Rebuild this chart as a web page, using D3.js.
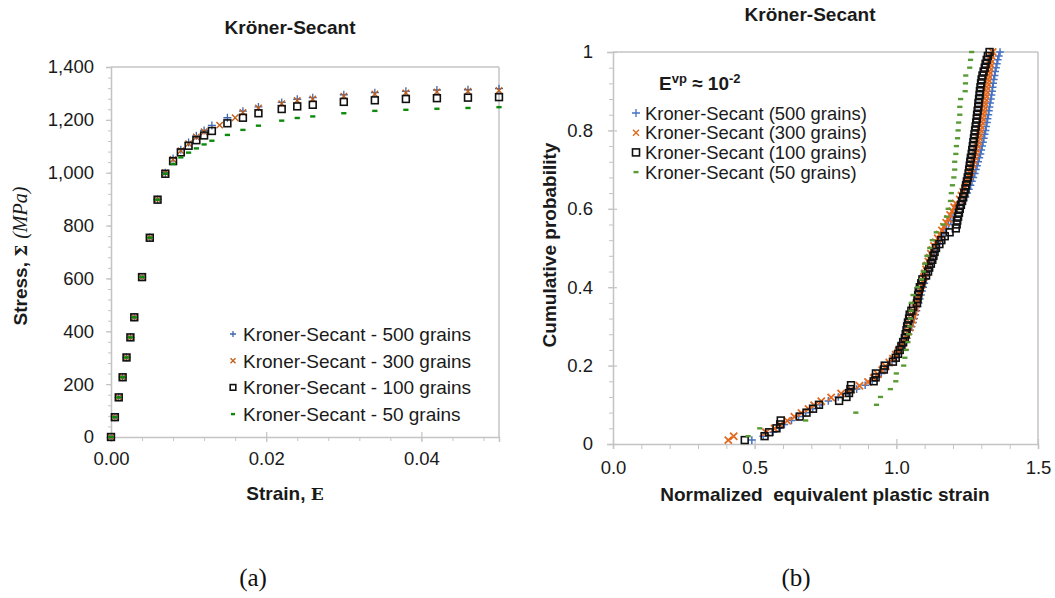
<!DOCTYPE html>
<html><head><meta charset="utf-8">
<script src="https://cdn.jsdelivr.net/npm/d3@7"></script>
<style>body{margin:0;background:#fff}svg{display:block}</style>
</head><body>
<svg id="c" width="1055" height="598"></svg>
<script>
// ---------- Data (a): stress-strain ----------
const strainL = [0,0.0005,0.001,0.0015,0.002,0.0025,0.003,0.004,0.005,0.006,0.007,0.008,0.009,0.010,0.011,0.012,0.013,0.015,0.017,0.019,0.022,0.024,0.026,0.030,0.034,0.038,0.042,0.046,0.050];
const strainL300 = [0,0.0005,0.001,0.0015,0.002,0.0025,0.003,0.004,0.005,0.006,0.007,0.008,0.009,0.010,0.011,0.012,0.014,0.016,0.017,0.019,0.022,0.024,0.026,0.030,0.034,0.038,0.042,0.046,0.050];
const stress500 = [0,75,150,226,301,377,453,605,755,899,1000,1054,1087,1114,1140,1160,1179,1208,1233,1249,1266,1278,1284,1295,1303,1308,1313,1314,1318];
const stress300 = [0,75,150,226,301,377,453,605,755,899,1000,1050,1083,1110,1135,1155,1180,1208,1228,1245,1261,1273,1279,1290,1298,1302,1306,1308,1311];
const stress100 = [0,75,150,226,301,377,453,605,754,898,996,1044,1077,1102,1123,1141,1158,1187,1208,1225,1241,1251,1257,1268,1274,1279,1282,1284,1286];
const stress50  = [0,75,150,226,301,377,453,605,754,898,996,1033,1058,1076,1092,1107,1121,1143,1162,1178,1197,1207,1213,1225,1234,1238,1242,1245,1248];
const legendL = ["Kroner-Secant - 500 grains","Kroner-Secant - 300 grains","Kroner-Secant - 100 grains","Kroner-Secant - 50 grains"];
const ticksLY = [0,200,400,600,800,1000,1200,1400];
const ticksLX = [0,0.02,0.04];

// ---------- Data (b): normalized equivalent plastic strain samples (sorted) ----------
const eps500 = [0.49,0.53,0.565,0.585,0.605,0.63,0.655,0.68,0.705,0.73,0.76,0.795,0.83,0.86,0.89,0.915,0.932,0.947,0.96,0.972,0.985,0.996,1.006,1.015,1.023,1.03,1.037,1.043,1.049,1.054,1.059,1.063,1.067,1.071,1.075,1.079,1.083,1.087,1.091,1.095,1.099,1.103,1.107,1.111,1.115,1.12,1.125,1.13,1.135,1.141,1.147,1.154,1.161,1.168,1.176,1.184,1.192,1.2,1.208,1.215,1.222,1.237,1.244,1.25,1.256,1.262,1.267,1.272,1.277,1.281,1.285,1.289,1.293,1.297,1.3,1.303,1.306,1.309,1.312,1.315,1.317,1.32,1.322,1.325,1.327,1.329,1.331,1.334,1.336,1.338,1.34,1.342,1.344,1.347,1.349,1.352,1.355,1.358,1.362,1.366];
const eps300 = [0.407,0.426,0.54,0.57,0.59,0.615,0.64,0.665,0.69,0.71,0.735,0.77,0.805,0.84,0.87,0.9,0.92,0.935,0.95,0.963,0.975,0.988,0.998,1.008,1.016,1.024,1.03,1.036,1.042,1.047,1.052,1.056,1.06,1.064,1.067,1.07,1.073,1.077,1.081,1.085,1.089,1.093,1.097,1.101,1.105,1.109,1.113,1.118,1.122,1.127,1.133,1.139,1.146,1.153,1.161,1.168,1.176,1.183,1.19,1.197,1.204,1.21,1.224,1.23,1.236,1.242,1.247,1.252,1.257,1.261,1.265,1.269,1.273,1.276,1.279,1.282,1.285,1.288,1.291,1.293,1.296,1.298,1.3,1.303,1.305,1.307,1.309,1.311,1.313,1.315,1.317,1.319,1.321,1.323,1.325,1.327,1.329,1.331,1.333,1.336,1.34];
const eps100 = [0.465,0.535,0.551,0.577,0.59,0.592,0.659,0.683,0.706,0.727,0.798,0.824,0.833,0.838,0.84,0.92,0.927,0.928,0.956,0.959,0.988,0.998,1.006,1.012,1.018,1.024,1.03,1.033,1.036,1.038,1.041,1.045,1.047,1.053,1.059,1.073,1.075,1.077,1.079,1.083,1.088,1.092,1.105,1.112,1.116,1.122,1.127,1.131,1.135,1.14,1.152,1.159,1.171,1.188,1.21,1.213,1.215,1.218,1.221,1.224,1.228,1.232,1.236,1.24,1.244,1.246,1.249,1.252,1.255,1.257,1.259,1.261,1.263,1.266,1.268,1.27,1.272,1.274,1.276,1.278,1.28,1.282,1.284,1.285,1.287,1.289,1.29,1.292,1.294,1.295,1.297,1.299,1.301,1.304,1.308,1.312,1.315,1.319,1.323,1.329];
const eps50 = [0.477,0.518,0.68,0.857,0.93,0.944,0.979,0.998,1.0,1.026,1.03,1.035,1.041,1.044,1.047,1.05,1.052,1.053,1.059,1.075,1.089,1.095,1.1,1.108,1.118,1.127,1.141,1.165,1.177,1.183,1.191,1.194,1.198,1.203,1.206,1.206,1.21,1.212,1.216,1.218,1.22,1.224,1.224,1.227,1.243,1.244,1.245,1.259,1.262,1.266];
const legendR = ["Kroner-Secant (500 grains)","Kroner-Secant (300 grains)","Kroner-Secant (100 grains)","Kroner-Secant (50 grains)"];
const ticksRY = [0,0.2,0.4,0.6,0.8,1];
const ticksRYLabels = ["0","0.2","0.4","0.6","0.8","1"];
const ticksRX = [0,0.5,1.0,1.5];

// ---------- setup ----------
const svg = d3.select("#c");
const FONT = "'Liberation Sans', Arial, sans-serif";
const AX = "#c4c4c4";
const TXT = "#1a1a1a";

function marker(g, type, color, x, y, s, w) {
  if (type === "plus") {
    g.append("path").attr("d", `M${x-s},${y}H${x+s}M${x},${y-s}V${y+s}`).attr("stroke", color).attr("stroke-width", w||1.3).attr("fill","none");
  } else if (type === "cross") {
    g.append("path").attr("d", `M${x-s},${y-s}L${x+s},${y+s}M${x-s},${y+s}L${x+s},${y-s}`).attr("stroke", color).attr("stroke-width", w||1.4).attr("fill","none");
  } else if (type === "square") {
    g.append("rect").attr("x", x-s).attr("y", y-s).attr("width", 2*s).attr("height", 2*s).attr("fill","none").attr("stroke", color).attr("stroke-width", w||1.6);
  } else if (type === "dash") {
    g.append("rect").attr("x", x-s).attr("y", y-1.2).attr("width", 2*s).attr("height", 2.4).attr("fill", color);
  }
}

// ================= Chart (a) =================
const xL = d3.scaleLinear().domain([0,0.05]).range([111,499]);
const yL = d3.scaleLinear().domain([0,1400]).range([437,67]);
const gA = svg.append("g");

gA.append("line").attr("x1",xL(0)).attr("x2",xL(0.05)).attr("y1",yL(1400)).attr("y2",yL(1400)).attr("stroke",AX).attr("stroke-width",1.5);
gA.append("line").attr("x1",xL(0.05)).attr("x2",xL(0.05)).attr("y1",yL(0)).attr("y2",yL(1400)).attr("stroke",AX).attr("stroke-width",1.5);

const minorLY = d3.range(0, 1401, 40);
gA.append("g").attr("transform",`translate(${xL(0)},0)`)
  .call(d3.axisLeft(yL).tickValues(minorLY).tickSize(3).tickFormat(""))
  .call(g=>{g.select(".domain").remove(); g.selectAll("line").attr("stroke",AX).attr("stroke-width",1);});
const minorLX = d3.range(0, 13).map(i=>i*0.004);
gA.append("g").attr("transform",`translate(0,${yL(0)})`)
  .call(d3.axisBottom(xL).tickValues(minorLX).tickSize(4).tickFormat(""))
  .call(g=>{g.select(".domain").remove(); g.selectAll("line").attr("stroke",AX).attr("stroke-width",1);});

const axLY = gA.append("g").attr("transform",`translate(${xL(0)},0)`)
  .call(d3.axisLeft(yL).tickValues(ticksLY).tickSize(5).tickPadding(12).tickFormat(d3.format(",")));
axLY.select(".domain").attr("stroke",AX).attr("stroke-width",1.5);
axLY.selectAll("line").attr("stroke",AX).attr("stroke-width",1.2);
axLY.selectAll("text").attr("font-family",FONT).attr("font-size",18.5).attr("fill",TXT);

const axLX = gA.append("g").attr("transform",`translate(0,${yL(0)})`)
  .call(d3.axisBottom(xL).tickValues(ticksLX).tickSize(5).tickPadding(10).tickFormat(d3.format(".2f")));
axLX.select(".domain").attr("stroke",AX).attr("stroke-width",1.5);
axLX.selectAll("line").attr("stroke",AX).attr("stroke-width",1.2).attr("y1",-5);
axLX.selectAll("text").attr("font-family",FONT).attr("font-size",18.5).attr("fill",TXT);

gA.append("text").attr("x",290).attr("y",34).attr("text-anchor","middle").attr("font-family",FONT).attr("font-weight","bold").attr("font-size",19).attr("fill",TXT).text("Kröner-Secant");

const yt = gA.append("text").attr("transform","translate(27,256) rotate(-90)").attr("text-anchor","middle").attr("font-size",19).attr("fill",TXT);
yt.append("tspan").attr("font-family",FONT).attr("font-weight","bold").text("Stress, ");
yt.append("tspan").attr("font-family","'DejaVu Serif', serif").attr("font-weight","bold").attr("font-size",17).text("Σ ");
yt.append("tspan").attr("font-family","'Liberation Serif', serif").attr("font-style","italic").attr("font-size",20).text("(MPa)");

const xt = gA.append("text").attr("x",285).attr("y",500).attr("text-anchor","middle").attr("font-size",19).attr("fill",TXT);
xt.append("tspan").attr("font-family",FONT).attr("font-weight","bold").text("Strain, ");
xt.append("tspan").attr("font-family","'DejaVu Serif', serif").attr("font-weight","bold").attr("font-size",17).text("E");

const colL = {b:"#3f67b0", o:"#c0601c", k:"#111", g:"#0c8a0c"};
const dA = gA.append("g");
strainL.forEach((s,i)=>marker(dA,"plus",colL.b,xL(s),yL(stress500[i]),4));
strainL300.forEach((s,i)=>marker(dA,"cross",colL.o,xL(s),yL(stress300[i]),3.2));
strainL.forEach((s,i)=>marker(dA,"square",colL.k,xL(s),yL(stress100[i]),3.4));
strainL.forEach((s,i)=>marker(dA,"dash",colL.g,xL(s),yL(stress50[i]),2.6));

const legA = gA.append("g");
const typesL = ["plus","cross","square","dash"];
const colsL = [colL.b,colL.o,colL.k,colL.g];
legendL.forEach((t,i)=>{
  const yy = 334 + i*26.7;
  marker(legA, typesL[i], colsL[i], 233, yy, i===0?3:(i===1?2.5:(i===2?2.8:2)));
  legA.append("text").attr("x",243).attr("y",yy).attr("dy","0.36em").attr("font-family",FONT).attr("font-size",19).attr("fill",TXT).text(t);
});

// ================= Chart (b) =================
const xR = d3.scaleLinear().domain([0,1.5]).range([613,1038]);
const yR = d3.scaleLinear().domain([0,1]).range([444,52]);
const gB = svg.append("g");

gB.append("line").attr("x1",xR(0)).attr("x2",xR(1.5)).attr("y1",yR(1)).attr("y2",yR(1)).attr("stroke",AX).attr("stroke-width",1.5);
gB.append("line").attr("x1",xR(1.5)).attr("x2",xR(1.5)).attr("y1",yR(0)).attr("y2",yR(1)).attr("stroke",AX).attr("stroke-width",1.5);

const minorRY = d3.range(0, 26).map(i=>i*0.04);
gB.append("g").attr("transform",`translate(${xR(0)},0)`)
  .call(d3.axisLeft(yR).tickValues(minorRY).tickSize(4).tickFormat(""))
  .call(g=>{g.select(".domain").remove(); g.selectAll("line").attr("stroke",AX).attr("stroke-width",1);});
const minorRX = d3.range(0, 16).map(i=>i*0.1);
gB.append("g").attr("transform",`translate(0,${yR(0)})`)
  .call(d3.axisBottom(xR).tickValues(minorRX).tickSize(5).tickFormat(""))
  .call(g=>{g.select(".domain").remove(); g.selectAll("line").attr("stroke",AX).attr("stroke-width",1);});

const axRY = gB.append("g").attr("transform",`translate(${xR(0)},0)`)
  .call(d3.axisLeft(yR).tickValues(ticksRY).tickSize(6).tickPadding(14).tickFormat((d,i)=>ticksRYLabels[i]));
axRY.select(".domain").attr("stroke",AX).attr("stroke-width",1.5);
axRY.selectAll("line").attr("stroke",AX).attr("stroke-width",1.2).attr("x2",-5).attr("x1",4);
axRY.selectAll("text").attr("font-family",FONT).attr("font-size",18.5).attr("fill",TXT);

const axRX = gB.append("g").attr("transform",`translate(0,${yR(0)})`)
  .call(d3.axisBottom(xR).tickValues(ticksRX).tickSize(5).tickPadding(12).tickFormat(d3.format(".1f")));
axRX.select(".domain").attr("stroke",AX).attr("stroke-width",1.5);
axRX.selectAll("line").attr("stroke",AX).attr("stroke-width",1.2).attr("y1",-5);
axRX.selectAll("text").attr("font-family",FONT).attr("font-size",18.5).attr("fill",TXT);

gB.append("text").attr("x",810).attr("y",21).attr("text-anchor","middle").attr("font-family",FONT).attr("font-weight","bold").attr("font-size",19).attr("fill",TXT).text("Kröner-Secant");
gB.append("text").attr("transform","translate(556,245) rotate(-90)").attr("text-anchor","middle").attr("font-family",FONT).attr("font-weight","bold").attr("font-size",19).attr("fill",TXT).text("Cumulative probability");
gB.append("text").attr("x",825).attr("y",501).attr("text-anchor","middle").attr("font-family",FONT).attr("font-weight","bold").attr("font-size",19).attr("fill",TXT).attr("xml:space","preserve").style("white-space","pre").text("Normalized  equivalent plastic strain");

const ann = gB.append("text").attr("x",659).attr("y",90).attr("font-family",FONT).attr("font-weight","bold").attr("font-size",19).attr("fill",TXT);
ann.append("tspan").text("E");
ann.append("tspan").attr("font-size",13).attr("dy",-7).text("vp");
ann.append("tspan").attr("dy",7).text(" ≈ 10");
ann.append("tspan").attr("font-size",13).attr("dy",-7).text("-2");

// data (empirical cumulative probability from sorted samples)
const colR = {b:"#4472c4", o:"#e2691f", k:"#111", g:"#5a9a36"};
const dB = gB.append("g");
eps500.forEach((v,i)=>marker(dB,"plus",colR.b,xR(v),yR((i+1)/eps500.length),3.8,1.5));
eps300.forEach((v,i)=>marker(dB,"cross",colR.o,xR(v),yR((i+1)/eps300.length),3.6,1.8));
eps100.forEach((v,i)=>marker(dB,"square",colR.k,xR(v),yR((i+1)/eps100.length),3.4));
eps50.forEach((v,i)=>marker(dB,"dash",colR.g,xR(v),yR((i+1)/eps50.length),2.6));

const legB = gB.append("g");
const colsR = [colR.b,colR.o,colR.k,colR.g];
legendR.forEach((t,i)=>{
  const yy = 113 + i*19.7;
  marker(legB, typesL[i], colsR[i], 636, yy, i===0?4:(i===1?3:(i===2?3.5:2.5)));
  legB.append("text").attr("x",645).attr("y",yy).attr("dy","0.36em").attr("font-family",FONT).attr("font-size",18.4).attr("fill",TXT).text(t);
});

svg.append("text").attr("x",253).attr("y",586).attr("text-anchor","middle").attr("font-family","'Liberation Serif', 'DejaVu Serif', serif").attr("font-size",25).attr("fill","#111").text("(a)");
svg.append("text").attr("x",796).attr("y",586).attr("text-anchor","middle").attr("font-family","'Liberation Serif', 'DejaVu Serif', serif").attr("font-size",25).attr("fill","#111").text("(b)");
</script>
</body></html>
